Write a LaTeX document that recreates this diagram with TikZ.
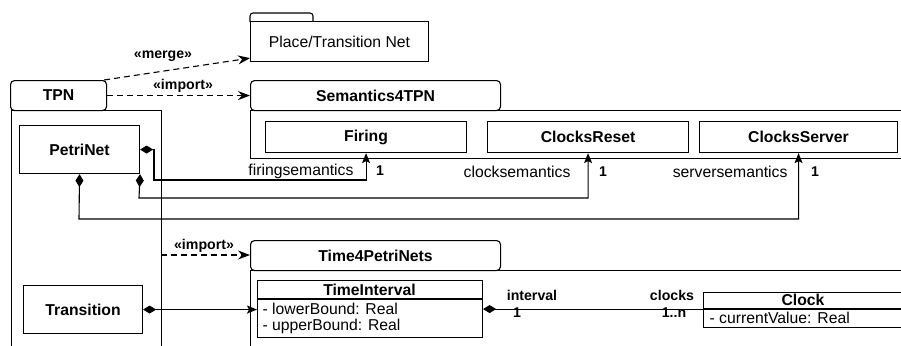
\documentclass[tikz,border=0pt]{standalone}
\usepackage{fontspec}
\setmainfont{Liberation Sans}
\usetikzlibrary{arrows.meta}
\begin{document}
\begin{tikzpicture}[x=1bp,y=-1bp,line width=1.1bp,
  every node/.style={font=\fontsize{15.8}{18}\selectfont},
  box/.style={draw, rectangle, inner sep=0pt, anchor=north west},
  tabbox/.style={draw, rectangle, rounded corners=4bp, inner sep=0pt, anchor=north west, font=\bfseries\fontsize{15.8}{18}\selectfont},
  cls/.style={box, font=\bfseries\fontsize{15.8}{18}\selectfont},
  lbl/.style={inner sep=0pt, font=\bfseries\fontsize{14.2}{16}\selectfont},
  role/.style={inner sep=0pt, font=\fontsize{15.8}{18}\selectfont},
  attr/.style={inner sep=0pt, anchor=west, font=\fontsize{15.8}{18}\selectfont},
  comp/.style={{Diamond[length=13bp,width=8bp]}-{Stealth[length=10bp,width=8bp,inset=2bp]}},
  comptail/.style={{Diamond[length=13bp,width=8bp]}-},
  dep/.style={dash pattern=on 6bp off 4bp, -{Stealth[length=12bp,width=9bp,inset=4bp]}}
]
\clip (0,0) rectangle (901,345);
% package bodies
\node[box, minimum width=150bp, minimum height=300bp] (tpnbody) at (11,110) {};
\node[box, minimum width=700bp, minimum height=48bp] (sembody) at (250,110) {};
\node[box, minimum width=700bp, minimum height=150bp] (timebody) at (250,270) {};
% tabs
\node[tabbox, minimum width=96bp, minimum height=30bp] (tpntab) at (10,80) {TPN};
\node[tabbox, minimum width=250bp, minimum height=30bp] (semtab) at (250,80) {Semantics4TPN};
\node[tabbox, minimum width=250bp, minimum height=30bp] (timetab) at (250,240) {Time4PetriNets};
\draw[rounded corners=3bp] (250,22) -- (250,13) -- (313,13) -- (313,22);
\node[box, fill=white, minimum width=178bp, minimum height=40bp] (ptn) at (250,21) {Place/Transition Net};
% classes
\node[cls, minimum width=201bp, minimum height=31bp] (firing) at (265,121) {Firing};
\node[cls, minimum width=201bp, minimum height=31bp] (creset) at (487,121) {ClocksReset};
\node[cls, minimum width=198bp, minimum height=31bp] (cserver) at (699,121) {ClocksServer};
\node[cls, minimum width=120bp, minimum height=48bp] (petri) at (19,125) {PetriNet};
\node[cls, minimum width=119bp, minimum height=48bp] (trans) at (23,285) {Transition};
\node[box, minimum width=225bp, minimum height=57bp] (tint) at (257,280) {};
\draw (257,299) -- (482,299);
\node[inner sep=0pt, font=\bfseries\fontsize{15.8}{18}\selectfont] (tinttitle) at (369.5,290) {TimeInterval};
\node[attr] (tintlo) at (262,309) {- lowerBound: Real};
\node[attr] (tintup) at (262,326.5) {- upperBound: Real};
\node[box, minimum width=200bp, minimum height=35bp] (clock) at (703,292) {};
\draw (703,309) -- (903,309);
\node[inner sep=0pt, font=\bfseries\fontsize{15.8}{18}\selectfont] (clocktitle) at (803,300) {Clock};
\node[attr] (clockcv) at (709,318) {- currentValue: Real};
% dependencies
\draw[dep] ([xshift=-3bp]tpntab.north east) -- ([yshift=4bp]ptn.south west);
\node[lbl] (lmerge) at (163,56) {«merge»};
\draw[dep] (tpntab.east) -- (semtab.west);
\node[lbl] (limp1) at (183,86) {«import»};
\coordinate (imp2) at (161,255);
\draw[dep] (imp2) -- (imp2 -| timetab.west);
\node[lbl] (limp2) at (204,246) {«import»};
% associations
\draw[comp] (petri.east) -| (154,180) -| (firing.south);
\draw[comp] (petri.south east) -- (139,198) -| (creset.south);
\draw[comp] (petri.south) -- (79,219) -| (cserver.south);
\node[role, anchor=east] (rfire) at (354,171) {firingsemantics};
\node[lbl] (mfire) at (380,171) {1};
\node[role, anchor=east] (rreset) at (571,172) {clocksemantics};
\node[lbl] (mreset) at (603,172) {1};
\node[role, anchor=east] (rserver) at (788,172) {serversemantics};
\node[lbl] (mserver) at (815,172) {1};
\draw[comp] (trans.east) -- (trans.east -| tint.west);
\draw[comptail] (tint.east) -- (tint.east -| clock.west);
\node[lbl] (linterval) at (532,295) {interval};
\node[lbl] (lint1) at (517,313) {1};
\node[lbl] (lclocks) at (672,295) {clocks};
\node[lbl] (lclocksn) at (674,313) {1..n};
\end{tikzpicture}
\end{document}
